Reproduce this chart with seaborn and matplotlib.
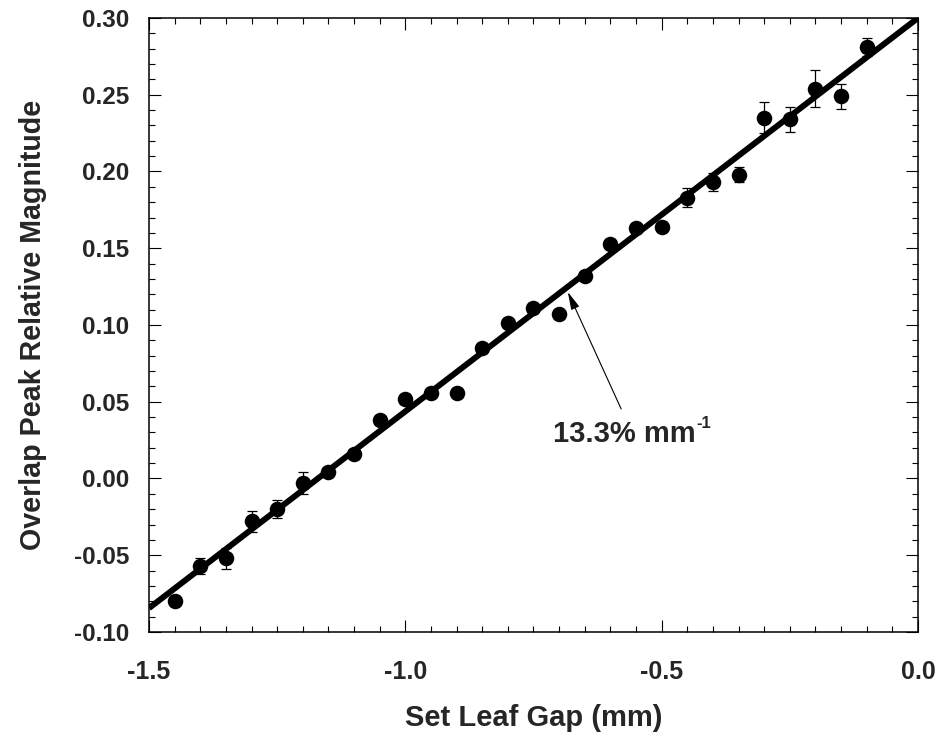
import numpy as np
import pandas as pd
import seaborn as sns
import matplotlib
matplotlib.use("Agg")
import matplotlib.pyplot as plt
from matplotlib.ticker import MultipleLocator

# ---------- Data ----------
gap_mm = [-1.45, -1.40, -1.35, -1.30, -1.25, -1.20, -1.15, -1.10, -1.05, -1.00,
          -0.95, -0.90, -0.85, -0.80, -0.75, -0.70, -0.65, -0.60, -0.55, -0.50,
          -0.45, -0.40, -0.35, -0.30, -0.25, -0.20, -0.15, -0.10]
magnitude = [-0.080, -0.057, -0.052, -0.028, -0.020, -0.003, 0.004, 0.016, 0.038, 0.052,
             0.056, 0.056, 0.085, 0.101, 0.111, 0.107, 0.132, 0.153, 0.163, 0.164,
             0.183, 0.193, 0.198, 0.235, 0.234, 0.254, 0.249, 0.281]
err = [0.003, 0.005, 0.007, 0.007, 0.006, 0.007, 0.003, 0.003, 0.003, 0.003,
       0.003, 0.003, 0.003, 0.003, 0.003, 0.003, 0.003, 0.003, 0.003, 0.003,
       0.006, 0.006, 0.005, 0.010, 0.008, 0.012, 0.008, 0.006]

# linear fit shown in the figure
fit_slope = 0.2563
fit_intercept = 0.300
fit_x = [-1.5, 0.0]

df = pd.DataFrame({"gap": gap_mm, "mag": magnitude, "err": err})
fit = pd.DataFrame({"gap": fit_x})
fit["mag"] = fit_intercept + fit_slope * fit["gap"]

# ---------- Style ----------
sns.set_theme(style="ticks")
plt.rcParams['font.family'] = ['Liberation Sans', 'DejaVu Sans']
plt.rcParams['font.weight'] = 'bold'
plt.rcParams['axes.unicode_minus'] = False

fig = plt.figure(figsize=(9.39, 7.37), dpi=100)
ax = fig.add_axes([0.1587, 0.1425, 0.8189, 0.8331])

sns.lineplot(data=fit, x="gap", y="mag", ax=ax, color="black", linewidth=4.3,
             zorder=2, solid_capstyle="butt")
ax.errorbar(df["gap"], df["mag"], yerr=df["err"], fmt="none", ecolor="black",
            elinewidth=0.9, capsize=3.3, capthick=0.9, zorder=3)
sns.scatterplot(data=df, x="gap", y="mag", ax=ax, color="black", s=125,
                edgecolor="black", linewidth=0, zorder=4)

ax.set_xlim(-1.5, 0.0)
ax.set_ylim(-0.10, 0.30)
ax.xaxis.set_major_locator(MultipleLocator(0.5))
ax.xaxis.set_minor_locator(MultipleLocator(0.05))
ax.yaxis.set_major_locator(MultipleLocator(0.05))
ax.yaxis.set_minor_locator(MultipleLocator(0.01))
ax.xaxis.set_major_formatter(plt.FuncFormatter(lambda v, p: f"{v:.1f}"))
ax.yaxis.set_major_formatter(plt.FuncFormatter(lambda v, p: f"{v:.2f}"))

for s in ax.spines.values():
    s.set_linewidth(1.1)
    s.set_color("black")
    s.set_visible(True)

ax.tick_params(which="both", direction="in", top=True, right=True, color="black", width=0.8)
ax.tick_params(which="major", length=8.5)
ax.tick_params(which="minor", length=4.3)
ax.tick_params(axis="x", which="major", labelsize=18, pad=20)
ax.tick_params(axis="y", which="major", labelsize=17.5, pad=14)
for lab in ax.get_xticklabels() + ax.get_yticklabels():
    lab.set_fontweight("bold")

ax.set_xlabel("Set Leaf Gap (mm)", fontsize=21, fontweight="bold")
ax.set_ylabel("Overlap Peak Relative Magnitude", fontsize=20.6, fontweight="bold")
ax.xaxis.set_label_coords(0.5, -0.140)
ax.yaxis.set_label_coords(-0.151, 0.5)
ax.xaxis.label.set_va("center")
ax.yaxis.label.set_va("center")

ax.annotate("", xy=(-0.683, 0.1215), xytext=(-0.579, 0.0453),
            arrowprops=dict(arrowstyle="-|>,head_length=0.9,head_width=0.22",
                            color="black", lw=0.8, shrinkA=0, shrinkB=0))
slope_txt = ax.text(-0.712, 0.0238, "13.3% mm", fontsize=21, fontweight="bold",
                    ha="left", va="baseline")
ax.annotate("-1", xy=(1.0, 1.0), xycoords=slope_txt, xytext=(0.5, 2.5),
            textcoords="offset points", fontsize=12, fontweight="bold",
            ha="left", va="top")

fig.savefig("out.png", dpi=100)
